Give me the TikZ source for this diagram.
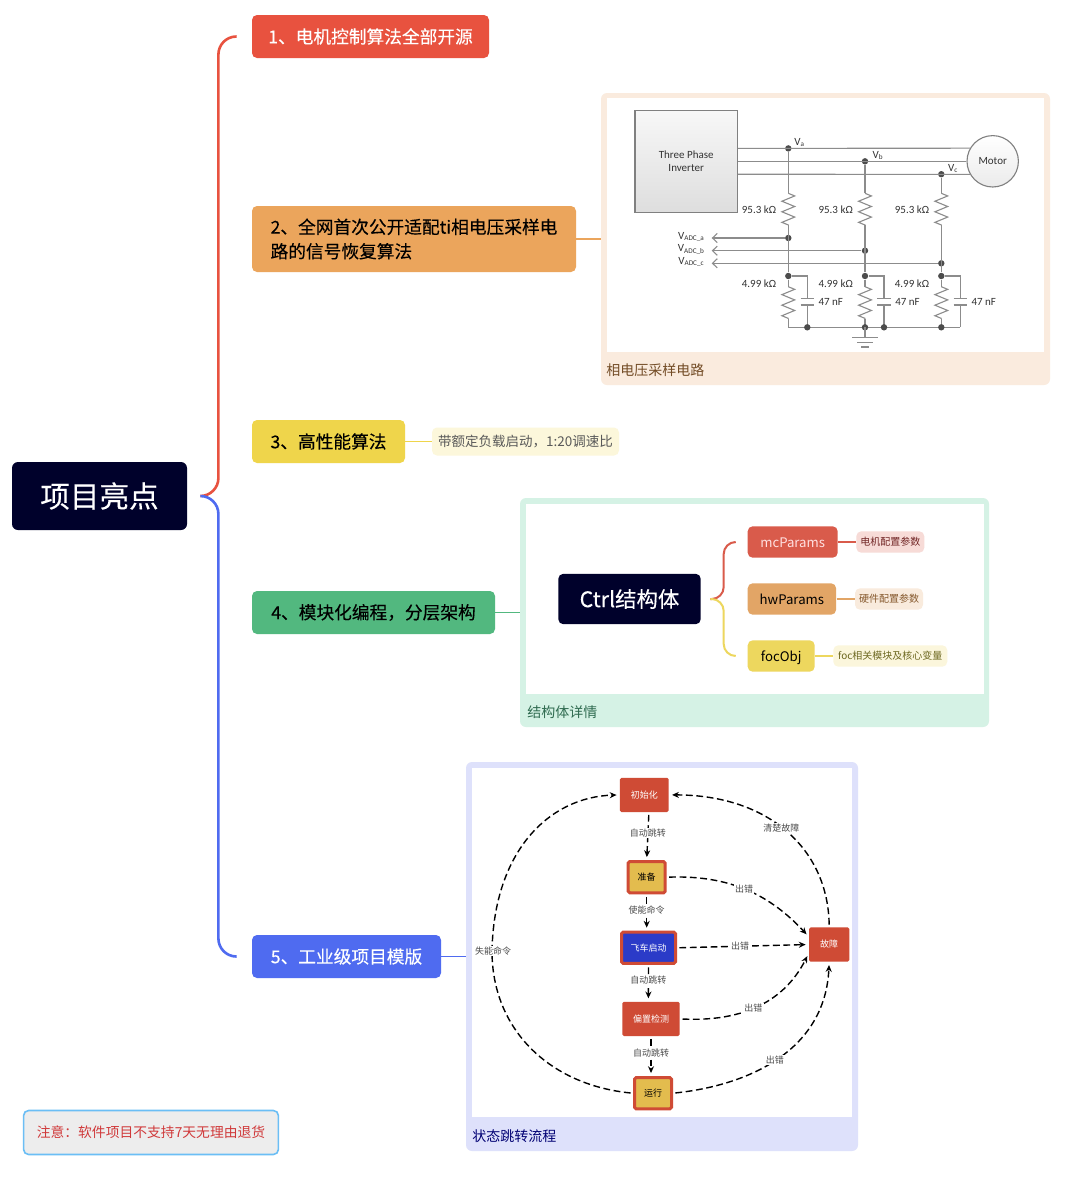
\documentclass[tikz,border=0pt]{standalone}
\usepackage{fontspec}
\setmainfont{Noto Sans CJK SC}
\newfontfamily\medfont[FakeBold=0.25]{Noto Sans CJK SC}
\newfontfamily\cktfont{Carlito}
\usepackage{tikz}
\usetikzlibrary{arrows.meta,decorations.pathmorphing}
\definecolor{navy}{HTML}{00012B}
\definecolor{redc}{HTML}{E8523F}
\definecolor{orac}{HTML}{EBA55C}
\definecolor{yelc}{HTML}{EFD54B}
\definecolor{grnc}{HTML}{52B87F}
\definecolor{bluc}{HTML}{4F6BF0}
\definecolor{frmo}{HTML}{FAEBDE}
\definecolor{frmg}{HTML}{D5F2E5}
\definecolor{frmb}{HTML}{DEE1FB}
\definecolor{ttlg}{HTML}{2F6B50}
\definecolor{mcred}{HTML}{D95B4B}
\definecolor{hwora}{HTML}{E2A566}
\definecolor{focyl}{HTML}{EDD75E}
\definecolor{stred}{HTML}{CF4B35}
\definecolor{styel}{HTML}{E3BC4E}
\definecolor{stblu}{HTML}{2B3BC8}
\newcommand{\vadc}[1]{V\raisebox{-0.7pt}{\fontsize{3.6}{4}\selectfont ADC\_#1}}
\newcommand{\vphs}[1]{V\raisebox{-0.7pt}{\fontsize{3.6}{4}\selectfont #1}}
\begin{document}
\begin{tikzpicture}[
    x=0.5pt, y=-0.5pt,
    itm/.style={rounded corners=2.5pt, inner sep=0pt, minimum height=21.5pt, align=left, font=\medfont\fontsize{8.85}{12.2}\selectfont},
    tag/.style={rounded corners=2.5pt, inner sep=0pt, minimum height=10.7pt},
    prm/.style={tag, minimum height=15.7pt, text height=6.4pt, text depth=1pt, font=\fontsize{6.6}{9}\selectfont},
    frm/.style={rounded corners=3pt, inner sep=0pt},
    pan/.style={fill=white, inner sep=0pt},
    ttl/.style={anchor=west, inner sep=0pt, font=\fontsize{7}{8}\selectfont},
    brc/.style={line width=1.3pt, rounded corners=9pt},
    twg/.style={line width=1pt, rounded corners=6pt},
    lnk/.style={line width=0.9pt},
    wire/.style={draw=black!45, line width=0.55pt},
    jnc/.style={circle, fill=black!70, inner sep=0pt, minimum size=3.2pt},
    val/.style={inner sep=0pt, text=black!80, font=\cktfont\fontsize{5.5}{6.6}\selectfont},
    stn/.style={fill=stred, text=white, rounded corners=0.8pt, inner sep=0pt, minimum height=17.15pt, font=\fontsize{4.5}{5}\selectfont},
    stb/.style={stn, draw=stred, line width=1.5pt, minimum height=15.65pt},
    arr/.style={-{Stealth[length=3.4pt,width=3pt]}, line width=0.7pt, dash pattern=on 3.4pt off 1.8pt, shorten >=1.5pt, shorten <=1.2pt},
    lab/.style={fill=white, inner sep=0.6pt, text=black!70, font=\fontsize{4.5}{5}\selectfont}
]
\fill[white] (0,0) rectangle (1086,1200);
\useasboundingbox (0,0) rectangle (1086,1200);

\node[fill=navy, text=white, rounded corners=3pt, inner sep=0pt, minimum width=87.5pt, minimum height=34pt, font=\medfont\fontsize{14.8}{16}\selectfont] (root) at (99.5,496) {项目亮点};
\node[itm, fill=redc, text=white, minimum width=118.5pt] (one) at (370.5,36.5) {1、电机控制算法全部开源};
\node[itm, fill=orac, minimum width=162pt, minimum height=33pt] (two) at (414,239) {2、全网首次公开适配ti相电压采样电\\路的信号恢复算法};
\node[itm, fill=yelc, minimum width=76.5pt] (three) at (328.5,441.5) {3、高性能算法};
\node[rounded corners=2.5pt, fill=yelc!20, text=black!65, inner sep=0pt, minimum width=93.5pt, minimum height=14pt, font=\fontsize{6.75}{8}\selectfont] (load) at (525.5,441.5) {带额定负载启动，1:20调速比};
\node[itm, fill=grnc, minimum width=121.5pt] (four) at (373.5,612.5) {4、模块化编程，分层架构};
\node[itm, fill=bluc, text=white, minimum width=94.5pt] (five) at (346.5,956.5) {5、工业级项目模版};
\node[draw={rgb,255:red,107;green,190;blue,245}, line width=0.8pt, fill=black!7, text={rgb,255:red,208;green,57;blue,58}, rounded corners=2.5pt, inner sep=0pt, minimum width=127.4pt, minimum height=22pt, font=\fontsize{6.9}{8}\selectfont] (note) at (151,1132.5) {注意：软件项目不支持7天无理由退货};

\node[frm, fill=frmo, minimum width=224.5pt, minimum height=146pt] (frmv) at (825.5,239) {};
\node[pan, minimum width=218.5pt, minimum height=127pt] (panv) at (825.5,225) {};
\node[ttl, text=brown!60!black] (ttlv) at (606,370) {相电压采样电路};
\node[frm, fill=frmg, minimum width=234.5pt, minimum height=114.5pt] (frmc) at (754.5,612.5) {};
\node[pan, minimum width=229pt, minimum height=95pt] (panc) at (755,599) {};
\node[ttl, text=ttlg] (ttlc) at (527,712) {结构体详情};
\node[frm, fill=frmb, minimum width=196pt, minimum height=194.5pt] (frms) at (662,956.5) {};
\node[pan, minimum width=190pt, minimum height=174.5pt] (pans) at (662,942.5) {};
\node[ttl, text=blue!45!black] (ttls) at (472,1136) {状态跳转流程};

\draw[brc, redc, shorten <=6.5pt, shorten >=7.5pt] (root.east) -- ++(31,0) |- (one.west);
\draw[brc, bluc, shorten <=6.5pt, shorten >=7.5pt] (root.east) -- ++(31,0) |- (five.west);
\draw[lnk, orac] (two.east) -- (frmv.west);
\draw[lnk, yelc] (three.east) -- (load.west);
\draw[lnk, grnc] (four.east) -- (frmc.west);
\draw[lnk, bluc] (five.east) -- (frms.west);

\node[draw=black!50, line width=0.55pt, top color=black!3, bottom color=black!13, inner sep=0pt, minimum width=51.2pt, minimum height=51.2pt, align=center, text=black!80, font=\cktfont\fontsize{5.5}{6.8}\selectfont] (inv) at (686.2,161.3) {Three Phase\\Inverter};
\node[draw=black!50, line width=0.55pt, circle, top color=white, bottom color=black!8, inner sep=0pt, minimum size=25.7pt, text=black!80, font=\cktfont\fontsize{5.5}{6.6}\selectfont] (motor) at (992.7,161.3) {Motor};
\foreach \xx/\ph/\yy/\ay/\ang in {788.3/a/148.4/238/150, 865/b/161.3/250.7/180, 941.3/c/174.2/263.3/210} {
    \node[jnc] (v\ph) at (\xx,\yy) {};
    \node[jnc] (adc\ph) at (\xx,\ay) {};
    \node[jnc] (low\ph) at (\xx,276) {};
    \coordinate (rat\ph) at (\xx,193.3);
    \coordinate (rab\ph) at (\xx,225);
    \coordinate (rbt\ph) at (\xx,286.7);
    \coordinate (rbb\ph) at (\xx,318.5);
    \coordinate (bot\ph) at (\xx,327.3);
    \coordinate (cpt\ph) at (\xx+19,298.3);
    \coordinate (cpb\ph) at (\xx+19,305);
    \coordinate (cpe\ph) at (\xx+19,327.3);
    \coordinate (tip\ph) at (711.7,\ay);
    \draw[wire] (inv.east |- v\ph) -- (motor.\ang);
    \draw[wire] (v\ph) -- (rat\ph);
    \draw[wire, decorate, decoration={zigzag, segment length=5.28pt, amplitude=3.2pt}] (rat\ph) -- (rab\ph);
    \draw[wire] (rab\ph) -- (low\ph);
    \draw[wire, {Straight Barb[length=2.4pt,width=4.6pt]}-] (tip\ph) -- (adc\ph);
    \draw[wire] (low\ph) -- (rbt\ph);
    \draw[wire, decorate, decoration={zigzag, segment length=5.28pt, amplitude=3.2pt}] (rbt\ph) -- (rbb\ph);
    \draw[wire] (rbb\ph) -- (bot\ph);
    \draw[wire] (low\ph) -| (cpt\ph);
    \draw[wire] (cpb\ph) -- (cpe\ph);
    \draw[wire, line width=0.8pt] ([xshift=-3.4pt]cpt\ph) -- ([xshift=3.4pt]cpt\ph);
    \draw[wire, line width=0.8pt] ([xshift=-3.4pt]cpb\ph) -- ([xshift=3.4pt]cpb\ph);
    \node[val] (rh\ph) at (\xx-29.3,209.3) {95.3 kΩ};
    \node[val] (rl\ph) at (\xx-29.3,284) {4.99 kΩ};
    \node[val] (cv\ph) at (\xx+42.5,302) {47 nF};
    \node[val] (adl\ph) at (691,\ay-1.3) {\vadc{\ph}};
}
\draw[wire] (bota) -- (cpec);
\foreach \nm in {cpea,botb,cpeb,botc} \node[jnc] (j\nm) at (\nm) {};
\coordinate (gnd) at (865,337.3);
\draw[wire] (botb) -- (gnd);
\foreach \yy/\hw in {337.3/12.7, 342.3/8, 347/4} \draw[wire] (865-\hw,\yy) -- (865+\hw,\yy);
\node[val] (lva) at (799.3,142.3) {\vphs{a}};
\node[val] (lvb) at (877.7,155.7) {\vphs{b}};
\node[val] (lvc) at (952.7,168.3) {\vphs{c}};

\node[rounded corners=2.5pt, fill=navy, text=white, inner sep=0pt, minimum width=71.2pt, minimum height=25.2pt, font=\medfont\fontsize{10.7}{12}\selectfont] (ctrl) at (629.5,599) {Ctrl结构体};
\node[prm, fill=mcred, text=white!88!red, minimum width=45pt] (mc) at (792.7,542) {mcParams};
\node[prm, fill=hwora, minimum width=44.2pt] (hw) at (791.9,599) {hwParams};
\node[prm, fill=focyl, minimum width=33.5pt] (foc) at (781.2,656) {focObj};
\node[tag, fill=mcred!22, text=red!35!black!85, minimum width=34pt, font=\fontsize{5}{6}\selectfont] (mcs) at (890.3,542) {电机配置参数};
\node[tag, fill=hwora!22, text=brown!70!black, minimum width=34pt, font=\fontsize{5}{6}\selectfont] (hws) at (889,599) {硬件配置参数};
\node[tag, fill=focyl!22, text=olive!70!black, minimum width=57pt, font=\fontsize{5}{6}\selectfont] (focs) at (890.3,656) {foc相关模块及核心变量};
\draw[twg, mcred, shorten <=4.6pt, shorten >=5.8pt] (ctrl.east) -- ++(22.6,0) |- (mc.west);
\draw[twg, focyl, shorten <=4.6pt, shorten >=5.8pt] (ctrl.east) -- ++(22.6,0) |- (foc.west);
\draw[lnk, mcred] (mc.east) -- (mcs.west);
\draw[lnk, hwora] (hw.east) -- (hws.west);
\draw[lnk, focyl] (foc.east) -- (focs.west);

\node[stn, minimum width=24.35pt] (init) at (644.3,794.9) {初始化};
\node[stb, fill=styel, text=black, minimum width=18.5pt] (ready) at (646.7,877.2) {准备};
\node[stb, fill=stblu, minimum width=27pt] (fly) at (648.5,947.8) {飞车启动};
\node[stn, minimum width=28.7pt] (bias) at (651,1018.9) {偏置检测};
\node[stb, fill=styel, text=black, minimum width=18.5pt] (run) at (653,1093.2) {运行};
\node[stn, minimum width=20.15pt] (fault) at (829.2,944.5) {故障};
\coordinate (off) at (492,951);

\draw[arr] ([xshift=2.3pt]init.south) -- node[lab, pos=.43] {自动跳转} (ready.north);
\draw[arr] (ready.south) -- node[lab, pos=.43] {使能命令} (ready.south |- fly.north);
\draw[arr] (fly.south) -- node[lab, pos=.42] {自动跳转} ([xshift=-1.3pt]bias.north);
\draw[arr] (bias.south) -- node[lab, pos=.43] {自动跳转} ([xshift=-1pt]run.north);
\draw[arr] (run.west) .. controls (550,1085) and (492,1030) .. (off) node[lab, xshift=0.5pt] {失能命令} .. controls (494,850) and (550,797) .. (init.west);
\draw[arr] (fault.north) .. controls (828,850) and (770,795) .. node[lab, pos=.53] {清楚故障} (init.east);
\draw[arr] (ready.east) .. controls (730,875) and (770,895) .. node[lab, pos=.48] {出错} ([yshift=4pt]fault.west);
\draw[arr] (fly.east) -- node[lab, pos=.48] {出错} (fault.west);
\draw[arr] (bias.east) .. controls (745,1022) and (785,1000) .. node[lab, pos=.45] {出错} ([yshift=-4.5pt]fault.west);
\draw[arr] (run.east) .. controls (750,1085) and (825,1050) .. node[lab, pos=.48] {出错} (fault.south);
\end{tikzpicture}
\end{document}
